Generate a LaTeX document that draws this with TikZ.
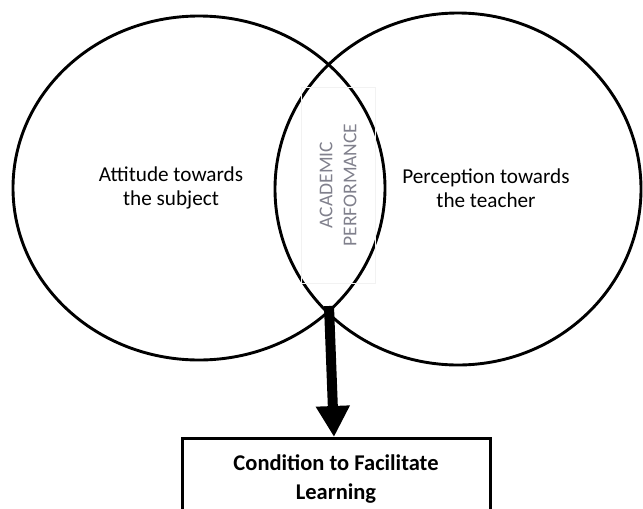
\documentclass[tikz,border=0pt]{standalone}
\usepackage{fontspec}
\setmainfont{Carlito}
\usetikzlibrary{shapes.geometric,arrows.meta}
\definecolor{perfgray}{RGB}{128,128,140}
\tikzset{
	ring/.style={ellipse,draw,line width=2.9pt,inner sep=0pt},
	lbl/.style={align=center,font=\fontsize{21.2}{24}\selectfont},
	perf/.style={draw=gray!10,line width=0.6pt,rotate=90,align=center,text=perfgray,
		minimum width=196pt,minimum height=74pt,font=\fontsize{19.5}{24}\selectfont},
	goal/.style={draw,line width=3pt,align=center,minimum width=308pt,minimum height=80pt,
		font=\bfseries\fontsize{22.5}{29}\selectfont}
}
\begin{document}
\begin{tikzpicture}[x=1pt,y=-1pt]
					\useasboundingbox (0,0) rectangle (643,509);
					% Define the two circles
					\node[ring,minimum width=372pt,minimum height=344pt] (subject) at (199,188) {};
					\node[ring,minimum width=366pt,minimum height=352pt] (teacher) at (458,189) {};
					% Add labels to the circles
					\node[lbl] (subjecttext) at (171,188) {Attitude towards\\the subject};
					\node[lbl] (teachertext) at (486,188) {Perception towards\\the teacher};
					\node[perf] (overlap) at (338,185) {ACADEMIC\\PERFORMANCE};
					% Create the outcome box and the arrow
					\coordinate (meet) at (329,306);
					\node[goal,anchor=north] (outcome) at (336,437) {Condition to Facilitate\\Learning};
					\draw[line width=10pt,-{Triangle[width=32pt,length=31pt]}] (meet) -- ([xshift=-2pt]outcome.north);
				\end{tikzpicture}
\end{document}
